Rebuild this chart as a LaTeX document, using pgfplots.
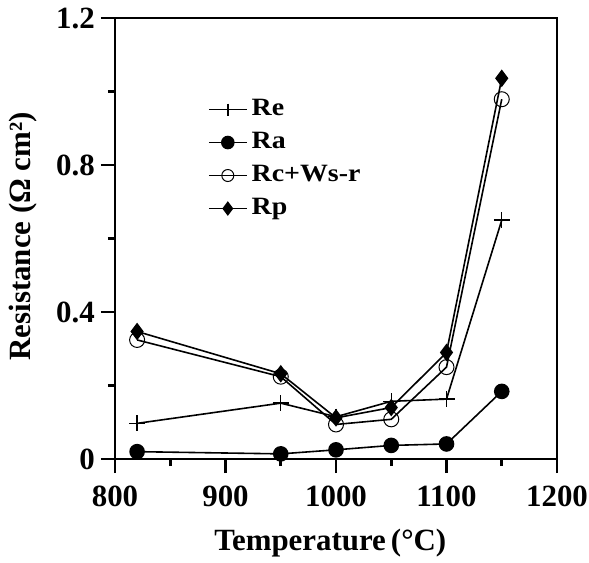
\documentclass[border=0pt]{standalone}
\usepackage{pgfplots}
\pgfplotsset{compat=1.18}
\usepackage{fontspec}
\setmainfont{Liberation Serif}
\newfontfamily\legendfont[FakeStretch=1.12]{Liberation Serif}

\begin{document}
\begin{tikzpicture}
\begin{axis}[
  scale only axis,
  width=442bp, height=441bp,
  xmin=800, xmax=1200, ymin=0, ymax=1.2,
  xtick={800,900,1000,1100,1200},
  ytick={0,0.4,0.8,1.2},
  minor xtick={850,950,1050,1150},
  minor ytick={0.2,0.6,1.0},
  tick pos=left,
  tick align=outside,
  major tick length=14bp,
  minor tick length=7bp,
  every tick/.style={line width=2.6bp, black},
  axis line style={line width=2.6bp},
  /pgf/number format/assume math mode=true,
  /pgf/number format/set thousands separator={},
  ticklabel style={font=\fontsize{31}{34}\selectfont\bfseries, inner sep=0pt},
  yticklabel style={anchor=east, xshift=-6bp},
  xticklabel style={anchor=center, yshift=-23bp},
  xlabel={Temperature\,(°C)},
  ylabel={Resistance (Ω cm²)},
  label style={font=\fontsize{31}{34}\selectfont\bfseries, inner sep=0pt},
  xlabel style={at={(axis description cs:0.487,0)}, anchor=center, yshift=-84bp},
  ylabel style={at={([xshift=-92bp]axis description cs:0,0.505)}, anchor=center},
  legend style={draw=none, fill=none, inner sep=0pt,
    at={(axis description cs:0.210,0.819)}, anchor=north west,
    font=\legendfont\fontsize{25}{27}\selectfont\bfseries, row sep=10bp,
    column sep=4bp,
    nodes={inner sep=0pt, text height=17bp, text depth=6bp}},
  legend cell align=left,
  legend image code/.code={
    \draw[mark size=6bp, mark repeat=2, mark phase=2, line width=1.6bp]
      plot coordinates {(0bp,0bp) (19bp,0bp) (38bp,0bp)};},
  every axis plot/.append style={line width=1.6bp, black},
]
% electrolyte resistance
\addplot[mark=+, mark size=8bp, mark options={line width=1.4bp}] coordinates {
  (820,0.097) (950,0.152) (1000,0.115) (1050,0.157) (1100,0.163) (1150,0.65)};
% anode resistance
\addplot[mark=*, mark size=7bp] coordinates {
  (820,0.020) (950,0.014) (1000,0.025) (1050,0.037) (1100,0.041) (1150,0.184)};
% cathode + Warburg resistance
\addplot[mark=o, mark size=7.5bp, mark options={fill=white, line width=1bp}] coordinates {
  (820,0.324) (950,0.224) (1000,0.094) (1050,0.108) (1100,0.250) (1150,0.979)};
% total polarization resistance
\addplot[mark=diamond*, mark size=7.5bp] coordinates {
  (820,0.347) (950,0.232) (1000,0.112) (1050,0.140) (1100,0.290) (1150,1.036)};
\legend{Re, Ra, Rc+Ws-r, Rp}
\end{axis}
% page margins around the plot
\path ([xshift=-115bp,yshift=-103bp]current axis.south west)
  rectangle ([xshift=32bp,yshift=18bp]current axis.north east);
\end{tikzpicture}
\end{document}
